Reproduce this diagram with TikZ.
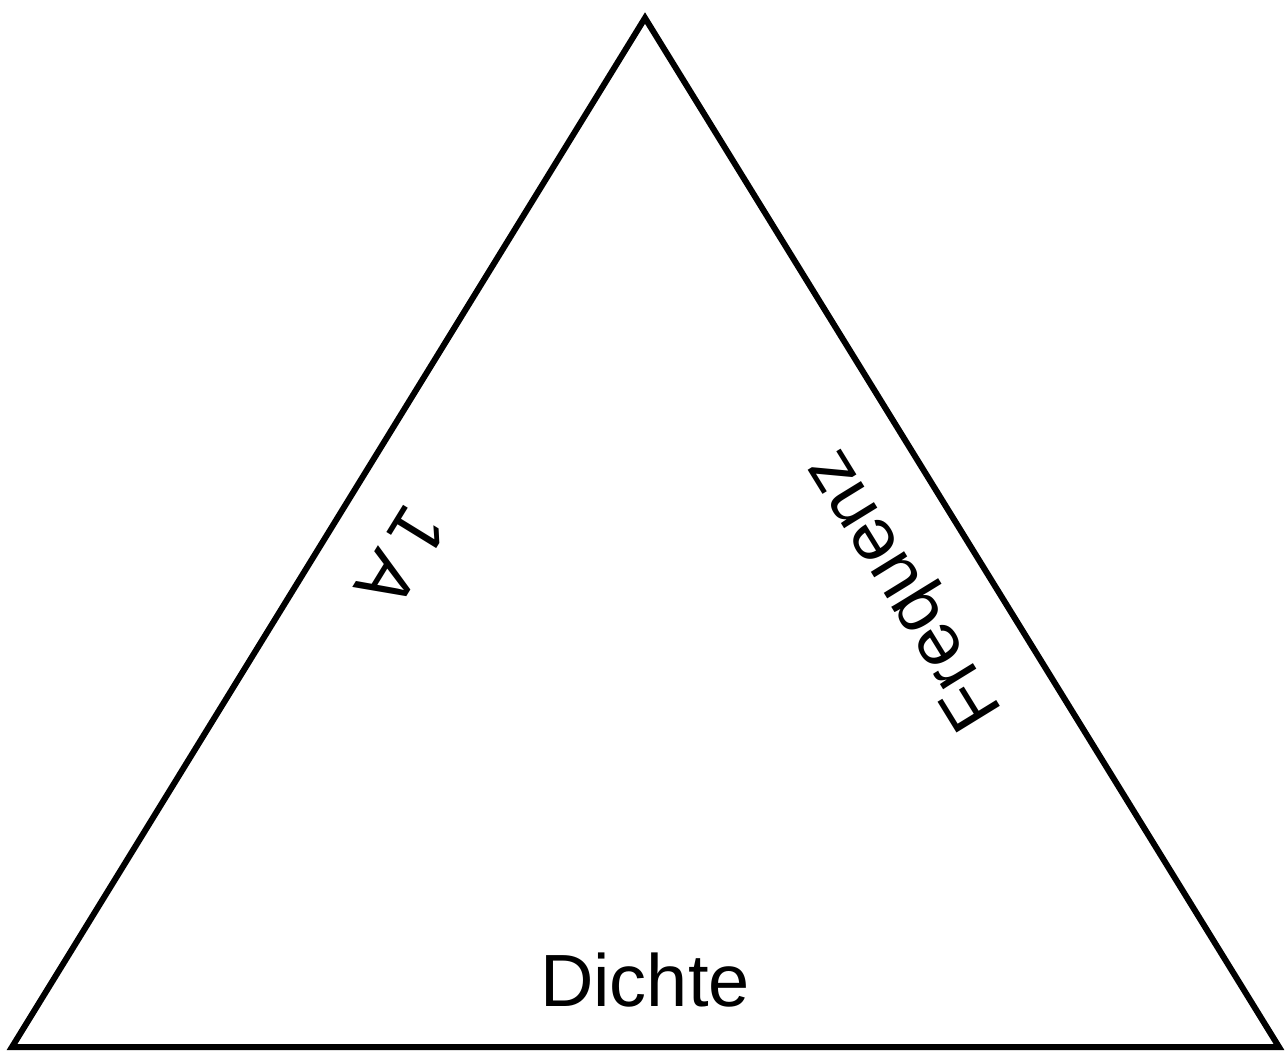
\documentclass[tikz,border=0pt]{standalone}
\usepackage{fontspec}
\setmainfont{Liberation Sans}
\begin{document}
\begin{tikzpicture}[x=1pt,y=-1pt,
  lbl/.style={font=\fontsize{74}{80}\selectfont, inner sep=0pt},
  edge/.style={line width=6pt, line join=miter}]
\useasboundingbox (0,0) rectangle (1287,1056);
\coordinate (T) at (645,18);
\coordinate (L) at (12,1047);
\coordinate (R) at (1279,1047);
\draw[edge] (T) -- (L) -- (R) -- cycle;
\node[lbl, anchor=base] (d) at (645,1006) {Dichte};
\node[lbl, rotate=121.6] (f) at (906,588) {Frequenz};
\node[lbl, rotate=238.4] (a) at (401.6,557.2) {1\kern12pt A};
\end{tikzpicture}
\end{document}
